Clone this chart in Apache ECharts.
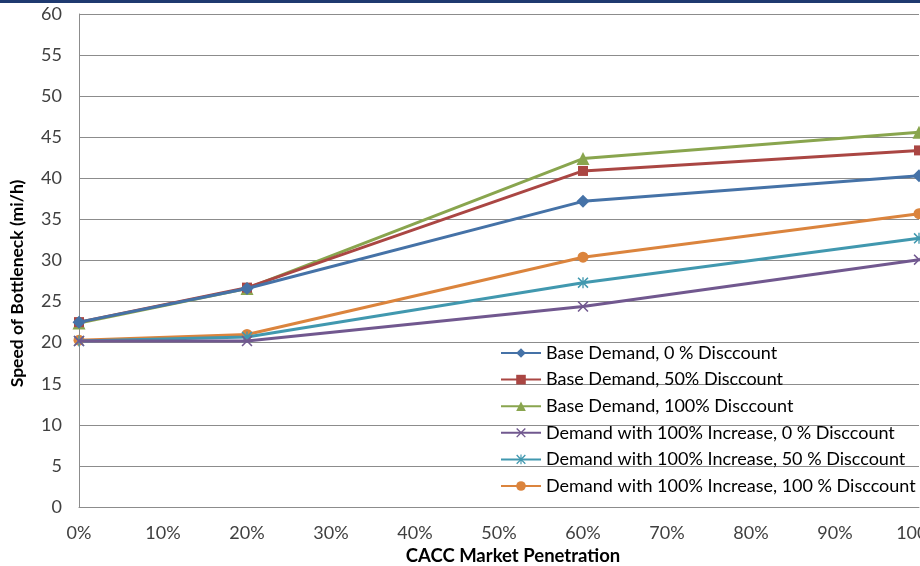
<!DOCTYPE html>
<html>
<head>
<meta charset="utf-8">
<script src="https://cdn.jsdelivr.net/npm/echarts@6/dist/echarts.min.js"></script>
<style>
  html, body { margin: 0; padding: 0; background: #fff; }
  #chart { width: 920px; height: 566px; }
</style>
</head>
<body>
<div id="chart"></div>
<script>
// CACC market penetration (%) at which the bottleneck speed was simulated
const penetration = [0, 20, 60, 100];

// Bottleneck speed (mi/h) for each scenario
const baseDisc0 = [22.5, 26.6, 37.2, 40.3];
const baseDisc50 = [22.5, 26.7, 40.9, 43.4];
const baseDisc100 = [22.4, 26.6, 42.4, 45.6];
const incDisc0 = [20.2, 20.2, 24.4, 30.1];
const incDisc50 = [20.2, 20.7, 27.3, 32.7];
const incDisc100 = [20.3, 21.0, 30.4, 35.7];

const seriesNames = [
  'Base Demand, 0 % Disccount',
  'Base Demand, 50% Disccount',
  'Base Demand, 100% Disccount',
  'Demand with 100% Increase, 0 % Disccount',
  'Demand with 100% Increase, 50 % Disccount',
  'Demand with 100% Increase, 100 % Disccount'
];
const seriesValues = [baseDisc0, baseDisc50, baseDisc100, incDisc0, incDisc50, incDisc100];
const colors = ['#4572A7', '#AA4643', '#89A54E', '#71588F', '#4198AF', '#DB843D'];

const crossPath = 'path://M0,1 L1,0 L5,4 L9,0 L10,1 L6,5 L10,9 L9,10 L5,6 L1,10 L0,9 L4,5 Z';
const starPath = 'path://M0,1 L1,0 L5,4 L9,0 L10,1 L6,5 L10,9 L9,10 L5,6 L1,10 L0,9 L4,5 Z M4.4,0 L5.6,0 L5.6,10 L4.4,10 Z';
const symbols = ['diamond', 'rect', 'triangle', crossPath, starPath, 'circle'];
const symbolSizes = [13, 10, 13, 11, 11, 11];

const font = 'Lato, "Open Sans", sans-serif';

const chart = echarts.init(document.getElementById('chart'), null, { renderer: 'canvas' });

chart.setOption({
  animation: false,
  backgroundColor: '#ffffff',
  color: colors,
  grid: { left: 79, right: 1, top: 14, bottom: 59, containLabel: false, outerBoundsMode: 'none' },
  graphic: [{
    type: 'rect',
    shape: { x: 0, y: 0, width: 920, height: 3 },
    style: { fill: '#1F3A70' },
    z: 100
  }],
  legend: {
    orient: 'vertical',
    left: 500,
    top: 344,
    padding: 0,
    itemWidth: 40,
    itemHeight: 12,
    itemGap: 8.6,
    textStyle: { fontFamily: font, fontSize: 18, lineHeight: 18, color: '#000' },
    data: seriesNames
  },
  xAxis: {
    type: 'value',
    min: 0,
    max: 100,
    interval: 10,
    name: 'CACC Market Penetration',
    nameLocation: 'middle',
    nameGap: 37,
    nameTextStyle: { fontFamily: font, fontSize: 18.5, fontWeight: 'bold', color: '#000', padding: [0, 0, 0, 28] },
    axisLine: { show: true, lineStyle: { color: '#8c8c8c', width: 1 } },
    axisTick: { show: false },
    axisLabel: { formatter: '{value}%', fontFamily: font, fontSize: 18, color: '#404040', margin: 17, showMaxLabel: true },
    splitLine: { show: false }
  },
  yAxis: {
    type: 'value',
    min: 0,
    max: 60,
    interval: 5,
    name: 'Speed of Bottleneck (mi/h)',
    nameLocation: 'middle',
    nameGap: 53,
    nameTextStyle: { fontFamily: font, fontSize: 17.5, fontWeight: 'bold', color: '#000', padding: [0, 46, 0, 0] },
    axisLine: { show: true, lineStyle: { color: '#8c8c8c', width: 1 } },
    axisTick: { show: false },
    axisLabel: { fontFamily: font, fontSize: 18, color: '#404040', margin: 17 },
    splitLine: { show: true, lineStyle: { color: '#8c8c8c', width: 1 } }
  },
  series: seriesNames.map((name, i) => ({
    name: name,
    type: 'line',
    data: penetration.map((p, j) => [p, seriesValues[i][j]]),
    symbol: symbols[i],
    symbolSize: symbolSizes[i],
    showAllSymbol: true,
    clip: false,
    lineStyle: { width: 3, color: colors[i] },
    itemStyle: { color: colors[i] },
    z: 10 - i
  }))
});
</script>
</body>
</html>
